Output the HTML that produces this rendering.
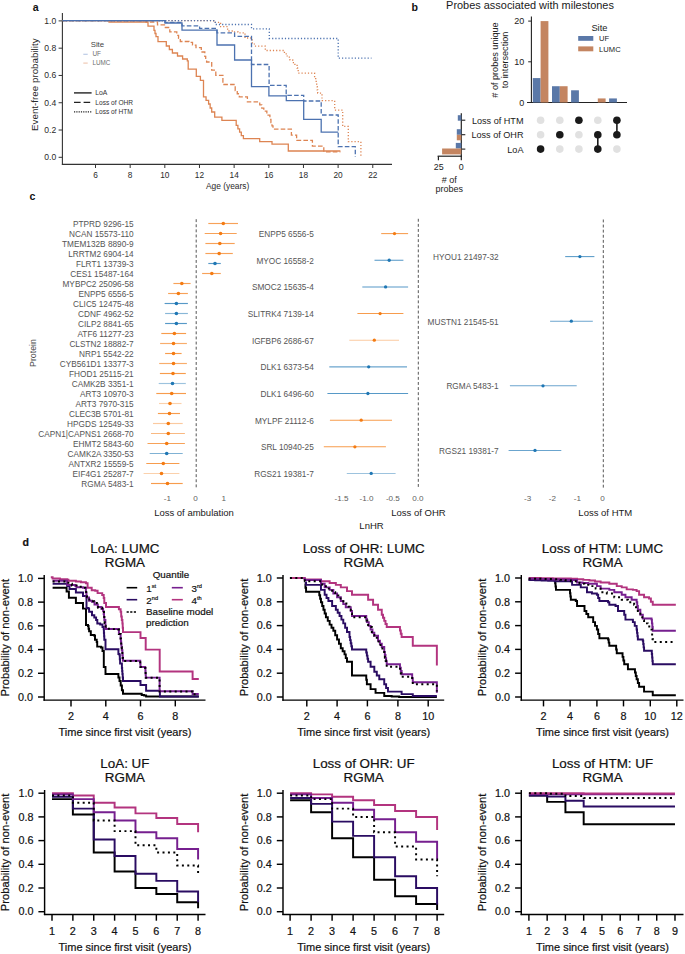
<!DOCTYPE html>
<html><head><meta charset="utf-8"><title>Figure</title>
<style>
html,body{margin:0;padding:0;background:#fff;}
body{width:685px;height:954px;overflow:hidden;}
svg{display:block;font-family:"Liberation Sans",sans-serif;}
</style></head>
<body>
<svg width="685" height="954" viewBox="0 0 685 954">
<rect width="685" height="954" fill="#fff"/>
<text x="32.8" y="11.4" font-size="10.6" text-anchor="start" fill="#111" stroke="#111" stroke-width="0" font-weight="bold">a</text>
<line x1="62.4" y1="13" x2="62.4" y2="164.9" stroke="#333" stroke-width="1.1"/>
<line x1="61.9" y1="164.4" x2="392" y2="164.4" stroke="#333" stroke-width="1.1"/>
<line x1="58.6" y1="157.3" x2="62.4" y2="157.3" stroke="#333" stroke-width="1"/>
<text x="56.2" y="160.27" font-size="8.6" text-anchor="end" fill="#2a2a2a" stroke="#2a2a2a" stroke-width="0" font-weight="normal">0.0</text>
<line x1="58.6" y1="130.02" x2="62.4" y2="130.02" stroke="#333" stroke-width="1"/>
<text x="56.2" y="132.99" font-size="8.6" text-anchor="end" fill="#2a2a2a" stroke="#2a2a2a" stroke-width="0" font-weight="normal">0.2</text>
<line x1="58.6" y1="102.74" x2="62.4" y2="102.74" stroke="#333" stroke-width="1"/>
<text x="56.2" y="105.71" font-size="8.6" text-anchor="end" fill="#2a2a2a" stroke="#2a2a2a" stroke-width="0" font-weight="normal">0.4</text>
<line x1="58.6" y1="75.46" x2="62.4" y2="75.46" stroke="#333" stroke-width="1"/>
<text x="56.2" y="78.43" font-size="8.6" text-anchor="end" fill="#2a2a2a" stroke="#2a2a2a" stroke-width="0" font-weight="normal">0.6</text>
<line x1="58.6" y1="48.18" x2="62.4" y2="48.18" stroke="#333" stroke-width="1"/>
<text x="56.2" y="51.15" font-size="8.6" text-anchor="end" fill="#2a2a2a" stroke="#2a2a2a" stroke-width="0" font-weight="normal">0.8</text>
<line x1="58.6" y1="20.9" x2="62.4" y2="20.9" stroke="#333" stroke-width="1"/>
<text x="56.2" y="23.87" font-size="8.6" text-anchor="end" fill="#2a2a2a" stroke="#2a2a2a" stroke-width="0" font-weight="normal">1.0</text>
<line x1="95.5" y1="164.4" x2="95.5" y2="168" stroke="#333" stroke-width="1"/>
<text x="95.5" y="178.06" font-size="8.3" text-anchor="middle" fill="#2a2a2a" stroke="#2a2a2a" stroke-width="0" font-weight="normal">6</text>
<line x1="130.16" y1="164.4" x2="130.16" y2="168" stroke="#333" stroke-width="1"/>
<text x="130.16" y="178.06" font-size="8.3" text-anchor="middle" fill="#2a2a2a" stroke="#2a2a2a" stroke-width="0" font-weight="normal">8</text>
<line x1="164.82" y1="164.4" x2="164.82" y2="168" stroke="#333" stroke-width="1"/>
<text x="164.82" y="178.06" font-size="8.3" text-anchor="middle" fill="#2a2a2a" stroke="#2a2a2a" stroke-width="0" font-weight="normal">10</text>
<line x1="199.48" y1="164.4" x2="199.48" y2="168" stroke="#333" stroke-width="1"/>
<text x="199.48" y="178.06" font-size="8.3" text-anchor="middle" fill="#2a2a2a" stroke="#2a2a2a" stroke-width="0" font-weight="normal">12</text>
<line x1="234.14" y1="164.4" x2="234.14" y2="168" stroke="#333" stroke-width="1"/>
<text x="234.14" y="178.06" font-size="8.3" text-anchor="middle" fill="#2a2a2a" stroke="#2a2a2a" stroke-width="0" font-weight="normal">14</text>
<line x1="268.8" y1="164.4" x2="268.8" y2="168" stroke="#333" stroke-width="1"/>
<text x="268.8" y="178.06" font-size="8.3" text-anchor="middle" fill="#2a2a2a" stroke="#2a2a2a" stroke-width="0" font-weight="normal">16</text>
<line x1="303.46" y1="164.4" x2="303.46" y2="168" stroke="#333" stroke-width="1"/>
<text x="303.46" y="178.06" font-size="8.3" text-anchor="middle" fill="#2a2a2a" stroke="#2a2a2a" stroke-width="0" font-weight="normal">18</text>
<line x1="338.12" y1="164.4" x2="338.12" y2="168" stroke="#333" stroke-width="1"/>
<text x="338.12" y="178.06" font-size="8.3" text-anchor="middle" fill="#2a2a2a" stroke="#2a2a2a" stroke-width="0" font-weight="normal">20</text>
<line x1="372.78" y1="164.4" x2="372.78" y2="168" stroke="#333" stroke-width="1"/>
<text x="372.78" y="178.06" font-size="8.3" text-anchor="middle" fill="#2a2a2a" stroke="#2a2a2a" stroke-width="0" font-weight="normal">22</text>
<text x="227.6" y="189.1" font-size="8.4" text-anchor="middle" fill="#2a2a2a" stroke="#2a2a2a" stroke-width="0" font-weight="normal">Age (years)</text>
<text x="38.2" y="84.7" font-size="9.8" text-anchor="middle" fill="#2a2a2a" stroke="#2a2a2a" stroke-width="0" font-weight="normal" transform="rotate(-90 38.2 84.7)">Event-free probability</text>
<path d="M62.7 20.7L109 20.7L109 22L142 22H148V26.2H154V30.4H155V33.5H156V36.6H158V41.7H166.3V46H169.35V49.5H172.4V53H177.5V56H182.6V59H187.3V60.8L188.2 60.8L188.2 69.2L196.3 69.2L196.3 76.3L200.4 76.3L200.4 80.4L203.5 80.4L203.5 96.8H206.05V100.4H208.6V104H210.15V108H211.7V112H214.7V117.2H221.9V120.3L234.2 120.3H236.2V125.4H237.9V128.8H239.6V132.2H241.3V135.6H243.4V138.7L259.7 138.7L259.7 141.7L272 141.7L272 144.2L288.3 144.2L288.3 151L340.4 151" fill="none" stroke="#dd8452" stroke-width="1.3" stroke-linejoin="miter"/>
<path d="M62.7 20.7L146 20.7L146 22L157.5 22L157.5 24.9H164.5V27.5H169.8V31.9H176.8V35.4H178.55V38.45H180.3V41.5H189V42.4H192.5V45.05H196V47.7H201.3V52H204.8V56.4H205.7V59.2H206.6V62L211.7 62L211.7 70.2L215.8 70.2L215.8 75.3L222.9 75.3L222.9 84.5L235.2 84.5L235.2 90.7H237.25V93.75H239.3V96.8H247.4V101.9L257.7 101.9H259.73V104.97H261.77V108.03H263.8V111.1H266.85V115.2H269.9V119.3H270.93V122.57H271.97V125.83H273V129.1L291.4 129.1L291.4 135.2L296.6 135.2L296.6 140.4L312.4 140.4L312.4 146.2L323.8 146.2L323.8 151.8L340.4 151.8" fill="none" stroke="#dd8452" stroke-width="1.3" stroke-linejoin="miter" stroke-dasharray="4.6,2.2"/>
<path d="M62.7 20.7L213.6 20.7L213.6 22.3H220.6V26.65H227.6V31H232.8V31.9H238V32.8H245V38H252.2V42.8H254.4V46.1L265.3 46.1L265.3 50.5L281.7 50.5H284.45V53.8H287.2V57.1H289.95V59.85H292.7V62.6H294.9V65.3H297.1V68H298.2V73.1L313.5 73.1H314.6V76.55H315.7V80H316.2V83.28H316.7V86.55H317.2V89.82H317.7V93.1L322 93.1L322 100.7L334.7 100.7L334.7 110.1L342.7 110.1L342.7 126.4L348.3 126.4L348.3 141.7L360.9 141.7L360.9 156.2" fill="none" stroke="#dd8452" stroke-width="1.3" stroke-linejoin="miter" stroke-dasharray="1.2,2"/>
<path d="M62.7 20.7L165 20.7L165 23L182 23L182 30.1L217 30.1L217 45L234.6 45L234.6 60L251.5 60L251.5 86.6L268.9 86.6L268.9 95.8L286.3 95.8L286.3 100.7L303.7 100.7L303.7 119.4L321.2 119.4L321.2 132.2L338.2 132.2" fill="none" stroke="#4c72b0" stroke-width="1.3" stroke-linejoin="miter"/>
<path d="M62.7 20.7L165 20.7L165 22.3L182 22.3L182 25.8L199.6 25.8L199.6 28.4L217 28.4L217 32.8L234.6 32.8L234.6 36.3L251.5 36.3L251.5 64.5L269.1 64.5L269.1 85.4L286.2 85.4L286.2 95.3L303.7 95.3L303.7 101L321.2 101L321.2 115L338.2 115L338.2 146.6L355.3 146.6L355.3 157.1" fill="none" stroke="#4c72b0" stroke-width="1.3" stroke-linejoin="miter" stroke-dasharray="4.6,2.2"/>
<path d="M62.7 20.7L215.3 20.7L215.3 24.5L251.5 24.5L251.5 28.8L269.3 28.8L269.3 38.5L338.2 38.5L338.2 58.2L371.5 58.2" fill="none" stroke="#4c72b0" stroke-width="1.3" stroke-linejoin="miter" stroke-dasharray="1.2,2"/>
<text x="90.7" y="46.69" font-size="7.8" text-anchor="start" fill="#444" stroke="#444" stroke-width="0" font-weight="normal">Site</text>
<line x1="83.3" y1="54.3" x2="87.7" y2="54.3" stroke="#bccbe6" stroke-width="1.2"/>
<text x="92.5" y="56.31" font-size="6.4" text-anchor="start" fill="#6e6e6e" stroke="#6e6e6e" stroke-width="0" font-weight="normal">UF</text>
<line x1="83.3" y1="63.1" x2="87.7" y2="63.1" stroke="#efc9b4" stroke-width="1.2"/>
<text x="92.5" y="65.17" font-size="6.3" text-anchor="start" fill="#6e6e6e" stroke="#6e6e6e" stroke-width="0" font-weight="normal">LUMC</text>
<line x1="74" y1="92.9" x2="91.6" y2="92.9" stroke="#222" stroke-width="1.4"/>
<line x1="74" y1="102.4" x2="91.6" y2="102.4" stroke="#222" stroke-width="1.4" stroke-dasharray="6.6,3"/>
<line x1="74" y1="111.9" x2="91.6" y2="111.9" stroke="#222" stroke-width="1.3" stroke-dasharray="1.2,1.1"/>
<text x="95.3" y="95.25" font-size="6.8" text-anchor="start" fill="#333" stroke="#333" stroke-width="0" font-weight="normal">LoA</text>
<text x="95.3" y="104.68" font-size="6.6" text-anchor="start" fill="#333" stroke="#333" stroke-width="0" font-weight="normal">Loss of OHR</text>
<text x="95.3" y="114.18" font-size="6.6" text-anchor="start" fill="#333" stroke="#333" stroke-width="0" font-weight="normal">Loss of HTM</text>
<text x="411.5" y="11.3" font-size="10.6" text-anchor="start" fill="#111" stroke="#111" stroke-width="0" font-weight="bold">b</text>
<text x="530" y="9.38" font-size="10.95" text-anchor="middle" fill="#1a1a1a" stroke="#1a1a1a" stroke-width="0" font-weight="normal">Probes associated with milestones</text>
<line x1="531.4" y1="16.5" x2="531.4" y2="103" stroke="#222" stroke-width="1.1"/>
<line x1="527" y1="102.5" x2="627" y2="102.5" stroke="#222" stroke-width="1.1"/>
<line x1="528.2" y1="102.5" x2="531.4" y2="102.5" stroke="#222" stroke-width="1"/>
<text x="524.3" y="105.61" font-size="9" text-anchor="end" fill="#222" stroke="#222" stroke-width="0" font-weight="normal">0</text>
<line x1="528.2" y1="61.8" x2="531.4" y2="61.8" stroke="#222" stroke-width="1"/>
<text x="524.3" y="64.91" font-size="9" text-anchor="end" fill="#222" stroke="#222" stroke-width="0" font-weight="normal">10</text>
<line x1="528.2" y1="21.1" x2="531.4" y2="21.1" stroke="#222" stroke-width="1"/>
<text x="524.3" y="24.2" font-size="9" text-anchor="end" fill="#222" stroke="#222" stroke-width="0" font-weight="normal">20</text>
<text x="498.3" y="60" font-size="9.1" text-anchor="middle" fill="#222" stroke="#222" stroke-width="0" font-weight="normal" transform="rotate(-90 498.3 60)"># of probes unique</text>
<text x="508.2" y="60" font-size="9.1" text-anchor="middle" fill="#222" stroke="#222" stroke-width="0" font-weight="normal" transform="rotate(-90 508.2 60)">to intersection</text>
<rect x="532.8" y="78.08" width="7.8" height="24.42" fill="#5a78a8"/>
<rect x="540.6" y="21.1" width="7.8" height="81.4" fill="#c48561"/>
<rect x="552" y="86.22" width="7.8" height="16.28" fill="#5a78a8"/>
<rect x="559.8" y="86.22" width="7.8" height="16.28" fill="#c48561"/>
<rect x="571.1" y="90.29" width="7.8" height="12.21" fill="#5a78a8"/>
<rect x="597.8" y="98.43" width="7.8" height="4.07" fill="#c48561"/>
<rect x="609.1" y="98.43" width="7.8" height="4.07" fill="#5a78a8"/>
<text x="591.4" y="30.61" font-size="9.3" text-anchor="start" fill="#222" stroke="#222" stroke-width="0" font-weight="normal">Site</text>
<rect x="578.2" y="36" width="15.1" height="4.8" fill="#5a78a8"/>
<text x="599.1" y="41.12" font-size="7.6" text-anchor="start" fill="#222" stroke="#222" stroke-width="0" font-weight="normal">UF</text>
<rect x="578.2" y="46.4" width="15.1" height="4.9" fill="#c48561"/>
<text x="599.1" y="51.62" font-size="7.6" text-anchor="start" fill="#222" stroke="#222" stroke-width="0" font-weight="normal">LUMC</text>
<text x="523.5" y="123.94" font-size="9.1" text-anchor="end" fill="#1a1a1a" stroke="#1a1a1a" stroke-width="0" font-weight="normal">Loss of HTM</text>
<text x="523.5" y="138.44" font-size="9.1" text-anchor="end" fill="#1a1a1a" stroke="#1a1a1a" stroke-width="0" font-weight="normal">Loss of OHR</text>
<text x="523.5" y="152.84" font-size="9.1" text-anchor="end" fill="#1a1a1a" stroke="#1a1a1a" stroke-width="0" font-weight="normal">LoA</text>
<circle cx="540.6" cy="134.7" r="3.8" fill="#e1e1e1"/>
<circle cx="540.6" cy="120.2" r="3.8" fill="#e1e1e1"/>
<circle cx="540.6" cy="149.1" r="3.8" fill="#1a1a1a"/>
<circle cx="559.8" cy="149.1" r="3.8" fill="#e1e1e1"/>
<circle cx="559.8" cy="120.2" r="3.8" fill="#e1e1e1"/>
<circle cx="559.8" cy="134.7" r="3.8" fill="#1a1a1a"/>
<circle cx="578.9" cy="149.1" r="3.8" fill="#e1e1e1"/>
<circle cx="578.9" cy="134.7" r="3.8" fill="#e1e1e1"/>
<circle cx="578.9" cy="120.2" r="3.8" fill="#1a1a1a"/>
<circle cx="597.8" cy="120.2" r="3.8" fill="#e1e1e1"/>
<line x1="597.8" y1="134.7" x2="597.8" y2="149.1" stroke="#1a1a1a" stroke-width="1.6"/>
<circle cx="597.8" cy="149.1" r="3.8" fill="#1a1a1a"/>
<circle cx="597.8" cy="134.7" r="3.8" fill="#1a1a1a"/>
<circle cx="616.9" cy="149.1" r="3.8" fill="#e1e1e1"/>
<line x1="616.9" y1="120.2" x2="616.9" y2="134.7" stroke="#1a1a1a" stroke-width="1.6"/>
<circle cx="616.9" cy="134.7" r="3.8" fill="#1a1a1a"/>
<circle cx="616.9" cy="120.2" r="3.8" fill="#1a1a1a"/>
<line x1="461.3" y1="113.2" x2="461.3" y2="156.8" stroke="#222" stroke-width="1.2"/>
<line x1="437.6" y1="156.2" x2="461.9" y2="156.2" stroke="#222" stroke-width="1.2"/>
<line x1="461.3" y1="120.2" x2="465.3" y2="120.2" stroke="#222" stroke-width="1.1"/>
<line x1="461.3" y1="134.7" x2="465.3" y2="134.7" stroke="#222" stroke-width="1.1"/>
<line x1="461.3" y1="149.1" x2="465.3" y2="149.1" stroke="#222" stroke-width="1.1"/>
<line x1="438.4" y1="156.2" x2="438.4" y2="160.3" stroke="#222" stroke-width="1.2"/>
<line x1="461.3" y1="156.2" x2="461.3" y2="160.3" stroke="#222" stroke-width="1.2"/>
<text x="438.8" y="170.47" font-size="8.9" text-anchor="middle" fill="#222" stroke="#222" stroke-width="0" font-weight="normal">25</text>
<text x="461.2" y="170.47" font-size="8.9" text-anchor="middle" fill="#222" stroke="#222" stroke-width="0" font-weight="normal">0</text>
<text x="449.2" y="182.5" font-size="9" text-anchor="middle" fill="#222" stroke="#222" stroke-width="0" font-weight="normal"># of</text>
<text x="449.2" y="191.9" font-size="9" text-anchor="middle" fill="#222" stroke="#222" stroke-width="0" font-weight="normal">probes</text>
<rect x="457.8" y="115.2" width="3.5" height="5.5" fill="#5a78a8"/>
<rect x="456.8" y="129.2" width="4.5" height="5.6" fill="#5a78a8"/>
<rect x="456.8" y="134.8" width="4.5" height="5.5" fill="#c48561"/>
<rect x="455.8" y="142.9" width="5.5" height="5.6" fill="#5a78a8"/>
<rect x="442.1" y="148.5" width="19.2" height="5.9" fill="#c48561"/>
<text x="29.5" y="199.6" font-size="10.6" text-anchor="start" fill="#111" stroke="#111" stroke-width="0" font-weight="bold">c</text>
<line x1="196.2" y1="219.2" x2="196.2" y2="488.8" stroke="#555" stroke-width="1" stroke-dasharray="2.9,2.2"/>
<line x1="208.3" y1="223.5" x2="238" y2="223.5" stroke="#f47b12" stroke-width="1.15" stroke-opacity="0.7"/>
<circle cx="223.3" cy="223.5" r="1.8" fill="#f47b12"/>
<text x="133.6" y="226.85" font-size="8.25" text-anchor="end" fill="#555" stroke="#555" stroke-width="0" font-weight="normal">PTPRD 9296-15</text>
<line x1="204.7" y1="233.5" x2="236.7" y2="233.5" stroke="#f47b12" stroke-width="1.15" stroke-opacity="0.7"/>
<circle cx="220.6" cy="233.5" r="1.8" fill="#f47b12"/>
<text x="133.6" y="236.85" font-size="8.25" text-anchor="end" fill="#555" stroke="#555" stroke-width="0" font-weight="normal">NCAN 15573-110</text>
<line x1="205.4" y1="243.5" x2="234.7" y2="243.5" stroke="#f47b12" stroke-width="1.15" stroke-opacity="0.7"/>
<circle cx="219.8" cy="243.5" r="1.8" fill="#f47b12"/>
<text x="133.6" y="246.85" font-size="8.25" text-anchor="end" fill="#555" stroke="#555" stroke-width="0" font-weight="normal">TMEM132B 8890-9</text>
<line x1="205.4" y1="253.5" x2="232.8" y2="253.5" stroke="#f47b12" stroke-width="1.15" stroke-opacity="0.7"/>
<circle cx="219.2" cy="253.5" r="1.8" fill="#f47b12"/>
<text x="133.6" y="256.85" font-size="8.25" text-anchor="end" fill="#555" stroke="#555" stroke-width="0" font-weight="normal">LRRTM2 6904-14</text>
<line x1="208.3" y1="263.5" x2="220.8" y2="263.5" stroke="#1f77b4" stroke-width="1.15" stroke-opacity="0.75"/>
<circle cx="215" cy="263.5" r="1.8" fill="#1f77b4"/>
<text x="133.6" y="266.85" font-size="8.25" text-anchor="end" fill="#555" stroke="#555" stroke-width="0" font-weight="normal">FLRT1 13739-3</text>
<line x1="202.1" y1="273.5" x2="220.8" y2="273.5" stroke="#f47b12" stroke-width="1.15" stroke-opacity="0.7"/>
<circle cx="211.8" cy="273.5" r="1.8" fill="#f47b12"/>
<text x="133.6" y="276.85" font-size="8.25" text-anchor="end" fill="#555" stroke="#555" stroke-width="0" font-weight="normal">CES1 15487-164</text>
<line x1="173.4" y1="283.5" x2="190.6" y2="283.5" stroke="#f47b12" stroke-width="1.15" stroke-opacity="0.7"/>
<circle cx="181.8" cy="283.5" r="1.8" fill="#f47b12"/>
<text x="133.6" y="286.85" font-size="8.25" text-anchor="end" fill="#555" stroke="#555" stroke-width="0" font-weight="normal">MYBPC2 25096-58</text>
<line x1="168.1" y1="293.5" x2="187.9" y2="293.5" stroke="#f47b12" stroke-width="1.15" stroke-opacity="0.7"/>
<circle cx="178.4" cy="293.5" r="1.8" fill="#f47b12"/>
<text x="133.6" y="296.85" font-size="8.25" text-anchor="end" fill="#555" stroke="#555" stroke-width="0" font-weight="normal">ENPP5 6556-5</text>
<line x1="164.6" y1="303.5" x2="187.9" y2="303.5" stroke="#1f77b4" stroke-width="1.15" stroke-opacity="0.75"/>
<circle cx="176.4" cy="303.5" r="1.8" fill="#1f77b4"/>
<text x="133.6" y="306.85" font-size="8.25" text-anchor="end" fill="#555" stroke="#555" stroke-width="0" font-weight="normal">CLIC5 12475-48</text>
<line x1="165.1" y1="313.5" x2="187.9" y2="313.5" stroke="#1f77b4" stroke-width="1.15" stroke-opacity="0.53"/>
<circle cx="176.4" cy="313.5" r="1.8" fill="#1f77b4"/>
<text x="133.6" y="316.85" font-size="8.25" text-anchor="end" fill="#555" stroke="#555" stroke-width="0" font-weight="normal">CDNF 4962-52</text>
<line x1="165.1" y1="323.5" x2="186.9" y2="323.5" stroke="#1f77b4" stroke-width="1.15" stroke-opacity="0.75"/>
<circle cx="176.4" cy="323.5" r="1.8" fill="#1f77b4"/>
<text x="133.6" y="326.85" font-size="8.25" text-anchor="end" fill="#555" stroke="#555" stroke-width="0" font-weight="normal">CILP2 8841-65</text>
<line x1="161.3" y1="333.5" x2="186.1" y2="333.5" stroke="#f47b12" stroke-width="1.15" stroke-opacity="0.75"/>
<circle cx="174.4" cy="333.5" r="1.8" fill="#f47b12"/>
<text x="133.6" y="336.85" font-size="8.25" text-anchor="end" fill="#555" stroke="#555" stroke-width="0" font-weight="normal">ATF6 11277-23</text>
<line x1="160.1" y1="343.5" x2="186.9" y2="343.5" stroke="#f47b12" stroke-width="1.15" stroke-opacity="0.62"/>
<circle cx="173.5" cy="343.5" r="1.8" fill="#f47b12"/>
<text x="133.6" y="346.85" font-size="8.25" text-anchor="end" fill="#555" stroke="#555" stroke-width="0" font-weight="normal">CLSTN2 18882-7</text>
<line x1="165.1" y1="353.5" x2="181.6" y2="353.5" stroke="#f47b12" stroke-width="1.15" stroke-opacity="0.75"/>
<circle cx="173.5" cy="353.5" r="1.8" fill="#f47b12"/>
<text x="133.6" y="356.85" font-size="8.25" text-anchor="end" fill="#555" stroke="#555" stroke-width="0" font-weight="normal">NRP1 5542-22</text>
<line x1="159.2" y1="363.5" x2="186.9" y2="363.5" stroke="#f47b12" stroke-width="1.15" stroke-opacity="0.62"/>
<circle cx="173.5" cy="363.5" r="1.8" fill="#f47b12"/>
<text x="133.6" y="366.85" font-size="8.25" text-anchor="end" fill="#555" stroke="#555" stroke-width="0" font-weight="normal">CYB561D1 13377-3</text>
<line x1="159.9" y1="373.5" x2="185.8" y2="373.5" stroke="#f47b12" stroke-width="1.15" stroke-opacity="0.75"/>
<circle cx="173" cy="373.5" r="1.8" fill="#f47b12"/>
<text x="133.6" y="376.85" font-size="8.25" text-anchor="end" fill="#555" stroke="#555" stroke-width="0" font-weight="normal">FHOD1 25115-21</text>
<line x1="158.7" y1="383.5" x2="185.8" y2="383.5" stroke="#1f77b4" stroke-width="1.15" stroke-opacity="0.44"/>
<circle cx="172.5" cy="383.5" r="1.8" fill="#1f77b4"/>
<text x="133.6" y="386.85" font-size="8.25" text-anchor="end" fill="#555" stroke="#555" stroke-width="0" font-weight="normal">CAMK2B 3351-1</text>
<line x1="156.3" y1="393.5" x2="186" y2="393.5" stroke="#f47b12" stroke-width="1.15" stroke-opacity="0.75"/>
<circle cx="171.7" cy="393.5" r="1.8" fill="#f47b12"/>
<text x="133.6" y="396.85" font-size="8.25" text-anchor="end" fill="#555" stroke="#555" stroke-width="0" font-weight="normal">ART3 10970-3</text>
<line x1="159" y1="403.5" x2="181.5" y2="403.5" stroke="#f47b12" stroke-width="1.15" stroke-opacity="0.35"/>
<circle cx="170" cy="403.5" r="1.8" fill="#f47b12"/>
<text x="133.6" y="406.85" font-size="8.25" text-anchor="end" fill="#555" stroke="#555" stroke-width="0" font-weight="normal">ART3 7970-315</text>
<line x1="157.9" y1="413.5" x2="180" y2="413.5" stroke="#f47b12" stroke-width="1.15" stroke-opacity="0.75"/>
<circle cx="169.5" cy="413.5" r="1.8" fill="#f47b12"/>
<text x="133.6" y="416.85" font-size="8.25" text-anchor="end" fill="#555" stroke="#555" stroke-width="0" font-weight="normal">CLEC3B 5701-81</text>
<line x1="153" y1="423.5" x2="182.7" y2="423.5" stroke="#f47b12" stroke-width="1.15" stroke-opacity="0.4"/>
<circle cx="168.3" cy="423.5" r="1.8" fill="#f47b12"/>
<text x="133.6" y="426.85" font-size="8.25" text-anchor="end" fill="#555" stroke="#555" stroke-width="0" font-weight="normal">HPGDS 12549-33</text>
<line x1="151" y1="433.5" x2="184.9" y2="433.5" stroke="#f47b12" stroke-width="1.15" stroke-opacity="0.53"/>
<circle cx="168.3" cy="433.5" r="1.8" fill="#f47b12"/>
<text x="133.6" y="436.85" font-size="8.25" text-anchor="end" fill="#555" stroke="#555" stroke-width="0" font-weight="normal">CAPN1|CAPNS1 2668-70</text>
<line x1="147.5" y1="443.5" x2="184.9" y2="443.5" stroke="#f47b12" stroke-width="1.15" stroke-opacity="0.7"/>
<circle cx="166.7" cy="443.5" r="1.8" fill="#f47b12"/>
<text x="133.6" y="446.85" font-size="8.25" text-anchor="end" fill="#555" stroke="#555" stroke-width="0" font-weight="normal">EHMT2 5843-60</text>
<line x1="149.7" y1="453.5" x2="182.7" y2="453.5" stroke="#1f77b4" stroke-width="1.15" stroke-opacity="0.57"/>
<circle cx="166.7" cy="453.5" r="1.8" fill="#1f77b4"/>
<text x="133.6" y="456.85" font-size="8.25" text-anchor="end" fill="#555" stroke="#555" stroke-width="0" font-weight="normal">CAMK2A 3350-53</text>
<line x1="146.3" y1="463.5" x2="179.4" y2="463.5" stroke="#f47b12" stroke-width="1.15" stroke-opacity="0.75"/>
<circle cx="163.3" cy="463.5" r="1.8" fill="#f47b12"/>
<text x="133.6" y="466.85" font-size="8.25" text-anchor="end" fill="#555" stroke="#555" stroke-width="0" font-weight="normal">ANTXR2 15559-5</text>
<line x1="143.6" y1="473.5" x2="179.4" y2="473.5" stroke="#f47b12" stroke-width="1.15" stroke-opacity="0.35"/>
<circle cx="161.5" cy="473.5" r="1.8" fill="#f47b12"/>
<text x="133.6" y="476.85" font-size="8.25" text-anchor="end" fill="#555" stroke="#555" stroke-width="0" font-weight="normal">EIF4G1 25287-7</text>
<line x1="151" y1="483.5" x2="182.7" y2="483.5" stroke="#f47b12" stroke-width="1.15" stroke-opacity="0.75"/>
<circle cx="167.5" cy="483.5" r="1.8" fill="#f47b12"/>
<text x="133.6" y="486.85" font-size="8.25" text-anchor="end" fill="#555" stroke="#555" stroke-width="0" font-weight="normal">RGMA 5483-1</text>
<text x="167.3" y="500.79" font-size="8.1" text-anchor="middle" fill="#606060" stroke="#606060" stroke-width="0" font-weight="normal">-1</text>
<text x="195.6" y="500.79" font-size="8.1" text-anchor="middle" fill="#606060" stroke="#606060" stroke-width="0" font-weight="normal">0</text>
<text x="223.8" y="500.79" font-size="8.1" text-anchor="middle" fill="#606060" stroke="#606060" stroke-width="0" font-weight="normal">1</text>
<text x="194" y="515.78" font-size="9.5" text-anchor="middle" fill="#1a1a1a" stroke="#1a1a1a" stroke-width="0" font-weight="normal">Loss of ambulation</text>
<text x="35.5" y="353" font-size="8.8" text-anchor="middle" fill="#4a4a4a" stroke="#4a4a4a" stroke-width="0" font-weight="normal" transform="rotate(-90 35.5 353)">Protein</text>
<line x1="418.3" y1="218.8" x2="418.3" y2="488.8" stroke="#555" stroke-width="1" stroke-dasharray="2.9,2.2"/>
<line x1="381.2" y1="233.6" x2="408.1" y2="233.6" stroke="#f47b12" stroke-width="1.05" stroke-opacity="0.75"/>
<circle cx="394.5" cy="233.6" r="1.65" fill="#f47b12"/>
<text x="313.8" y="236.95" font-size="8.25" text-anchor="end" fill="#555" stroke="#555" stroke-width="0" font-weight="normal">ENPP5 6556-5</text>
<line x1="374.5" y1="260.25" x2="403.4" y2="260.25" stroke="#1f77b4" stroke-width="1.05" stroke-opacity="0.75"/>
<circle cx="389.2" cy="260.25" r="1.65" fill="#1f77b4"/>
<text x="313.8" y="263.6" font-size="8.25" text-anchor="end" fill="#555" stroke="#555" stroke-width="0" font-weight="normal">MYOC 16558-2</text>
<line x1="362.3" y1="286.9" x2="408.1" y2="286.9" stroke="#1f77b4" stroke-width="1.05" stroke-opacity="0.75"/>
<circle cx="385.6" cy="286.9" r="1.65" fill="#1f77b4"/>
<text x="313.8" y="290.25" font-size="8.25" text-anchor="end" fill="#555" stroke="#555" stroke-width="0" font-weight="normal">SMOC2 15635-4</text>
<line x1="357.4" y1="313.55" x2="403.4" y2="313.55" stroke="#f47b12" stroke-width="1.05" stroke-opacity="0.75"/>
<circle cx="380.1" cy="313.55" r="1.65" fill="#f47b12"/>
<text x="313.8" y="316.9" font-size="8.25" text-anchor="end" fill="#555" stroke="#555" stroke-width="0" font-weight="normal">SLITRK4 7139-14</text>
<line x1="349.3" y1="340.2" x2="399" y2="340.2" stroke="#f47b12" stroke-width="1.05" stroke-opacity="0.4"/>
<circle cx="374.3" cy="340.2" r="1.65" fill="#f47b12"/>
<text x="313.8" y="343.55" font-size="8.25" text-anchor="end" fill="#555" stroke="#555" stroke-width="0" font-weight="normal">IGFBP6 2686-67</text>
<line x1="329.3" y1="366.85" x2="407" y2="366.85" stroke="#1f77b4" stroke-width="1.05" stroke-opacity="0.66"/>
<circle cx="368.7" cy="366.85" r="1.65" fill="#1f77b4"/>
<text x="313.8" y="370.2" font-size="8.25" text-anchor="end" fill="#555" stroke="#555" stroke-width="0" font-weight="normal">DLK1 6373-54</text>
<line x1="327.4" y1="393.5" x2="408.1" y2="393.5" stroke="#1f77b4" stroke-width="1.05" stroke-opacity="0.75"/>
<circle cx="367.9" cy="393.5" r="1.65" fill="#1f77b4"/>
<text x="313.8" y="396.85" font-size="8.25" text-anchor="end" fill="#555" stroke="#555" stroke-width="0" font-weight="normal">DLK1 6496-60</text>
<line x1="329.9" y1="420.15" x2="392" y2="420.15" stroke="#f47b12" stroke-width="1.05" stroke-opacity="0.75"/>
<circle cx="361.2" cy="420.15" r="1.65" fill="#f47b12"/>
<text x="313.8" y="423.5" font-size="8.25" text-anchor="end" fill="#555" stroke="#555" stroke-width="0" font-weight="normal">MYLPF 21112-6</text>
<line x1="323.8" y1="446.8" x2="385.9" y2="446.8" stroke="#f47b12" stroke-width="1.05" stroke-opacity="0.75"/>
<circle cx="354.9" cy="446.8" r="1.65" fill="#f47b12"/>
<text x="313.8" y="450.15" font-size="8.25" text-anchor="end" fill="#555" stroke="#555" stroke-width="0" font-weight="normal">SRL 10940-25</text>
<line x1="346.8" y1="473.45" x2="395.6" y2="473.45" stroke="#1f77b4" stroke-width="1.05" stroke-opacity="0.44"/>
<circle cx="371.2" cy="473.45" r="1.65" fill="#1f77b4"/>
<text x="313.8" y="476.8" font-size="8.25" text-anchor="end" fill="#555" stroke="#555" stroke-width="0" font-weight="normal">RGS21 19381-7</text>
<text x="341.5" y="500.79" font-size="8.1" text-anchor="middle" fill="#606060" stroke="#606060" stroke-width="0" font-weight="normal">-1.5</text>
<text x="366.5" y="500.79" font-size="8.1" text-anchor="middle" fill="#606060" stroke="#606060" stroke-width="0" font-weight="normal">-1.0</text>
<text x="392.9" y="500.79" font-size="8.1" text-anchor="middle" fill="#606060" stroke="#606060" stroke-width="0" font-weight="normal">-0.5</text>
<text x="417.8" y="500.79" font-size="8.1" text-anchor="middle" fill="#606060" stroke="#606060" stroke-width="0" font-weight="normal">0.0</text>
<text x="418.5" y="516.08" font-size="9.5" text-anchor="middle" fill="#1a1a1a" stroke="#1a1a1a" stroke-width="0" font-weight="normal">Loss of OHR</text>
<text x="371.5" y="529.48" font-size="9.5" text-anchor="middle" fill="#1a1a1a" stroke="#1a1a1a" stroke-width="0" font-weight="normal">LnHR</text>
<line x1="603.3" y1="219.5" x2="603.3" y2="489.2" stroke="#555" stroke-width="1" stroke-dasharray="2.9,2.2"/>
<line x1="565.2" y1="256.6" x2="594.4" y2="256.6" stroke="#1f77b4" stroke-width="1.05" stroke-opacity="0.75"/>
<circle cx="579.9" cy="256.6" r="1.65" fill="#1f77b4"/>
<text x="498.7" y="259.95" font-size="8.25" text-anchor="end" fill="#555" stroke="#555" stroke-width="0" font-weight="normal">HYOU1 21497-32</text>
<line x1="550.1" y1="321.2" x2="592.8" y2="321.2" stroke="#1f77b4" stroke-width="1.05" stroke-opacity="0.66"/>
<circle cx="571.3" cy="321.2" r="1.65" fill="#1f77b4"/>
<text x="498.7" y="324.55" font-size="8.25" text-anchor="end" fill="#555" stroke="#555" stroke-width="0" font-weight="normal">MUSTN1 21545-51</text>
<line x1="509.9" y1="385.8" x2="576.7" y2="385.8" stroke="#1f77b4" stroke-width="1.05" stroke-opacity="0.66"/>
<circle cx="543" cy="385.8" r="1.65" fill="#1f77b4"/>
<text x="498.7" y="389.15" font-size="8.25" text-anchor="end" fill="#555" stroke="#555" stroke-width="0" font-weight="normal">RGMA 5483-1</text>
<line x1="508.6" y1="450.4" x2="561.3" y2="450.4" stroke="#1f77b4" stroke-width="1.05" stroke-opacity="0.66"/>
<circle cx="535" cy="450.4" r="1.65" fill="#1f77b4"/>
<text x="498.7" y="453.75" font-size="8.25" text-anchor="end" fill="#555" stroke="#555" stroke-width="0" font-weight="normal">RGS21 19381-7</text>
<text x="527.6" y="500.79" font-size="8.1" text-anchor="middle" fill="#606060" stroke="#606060" stroke-width="0" font-weight="normal">-3</text>
<text x="552.3" y="500.79" font-size="8.1" text-anchor="middle" fill="#606060" stroke="#606060" stroke-width="0" font-weight="normal">-2</text>
<text x="577.4" y="500.79" font-size="8.1" text-anchor="middle" fill="#606060" stroke="#606060" stroke-width="0" font-weight="normal">-1</text>
<text x="602.4" y="500.79" font-size="8.1" text-anchor="middle" fill="#606060" stroke="#606060" stroke-width="0" font-weight="normal">0</text>
<text x="605.3" y="515.68" font-size="9.5" text-anchor="middle" fill="#1a1a1a" stroke="#1a1a1a" stroke-width="0" font-weight="normal">Loss of HTM</text>
<text x="22.5" y="546.2" font-size="10.6" text-anchor="start" fill="#111" stroke="#111" stroke-width="0.2" font-weight="bold">d</text>
<line x1="44.2" y1="575" x2="44.2" y2="700.8" stroke="#000" stroke-width="1.45"/>
<line x1="43.5" y1="700.1" x2="205.5" y2="700.1" stroke="#000" stroke-width="1.45"/>
<line x1="38" y1="697" x2="44.2" y2="697" stroke="#000" stroke-width="1.45"/>
<text x="33" y="700.73" font-size="10.8" text-anchor="end" fill="#111" stroke="#111" stroke-width="0.2" font-weight="normal">0.0</text>
<line x1="38" y1="673.28" x2="44.2" y2="673.28" stroke="#000" stroke-width="1.45"/>
<text x="33" y="677.01" font-size="10.8" text-anchor="end" fill="#111" stroke="#111" stroke-width="0.2" font-weight="normal">0.2</text>
<line x1="38" y1="649.56" x2="44.2" y2="649.56" stroke="#000" stroke-width="1.45"/>
<text x="33" y="653.29" font-size="10.8" text-anchor="end" fill="#111" stroke="#111" stroke-width="0.2" font-weight="normal">0.4</text>
<line x1="38" y1="625.84" x2="44.2" y2="625.84" stroke="#000" stroke-width="1.45"/>
<text x="33" y="629.57" font-size="10.8" text-anchor="end" fill="#111" stroke="#111" stroke-width="0.2" font-weight="normal">0.6</text>
<line x1="38" y1="602.12" x2="44.2" y2="602.12" stroke="#000" stroke-width="1.45"/>
<text x="33" y="605.85" font-size="10.8" text-anchor="end" fill="#111" stroke="#111" stroke-width="0.2" font-weight="normal">0.8</text>
<line x1="38" y1="578.4" x2="44.2" y2="578.4" stroke="#000" stroke-width="1.45"/>
<text x="33" y="582.13" font-size="10.8" text-anchor="end" fill="#111" stroke="#111" stroke-width="0.2" font-weight="normal">1.0</text>
<line x1="71" y1="700.1" x2="71" y2="706.4" stroke="#000" stroke-width="1.45"/>
<text x="71" y="719.83" font-size="10.8" text-anchor="middle" fill="#111" stroke="#111" stroke-width="0.2" font-weight="normal">2</text>
<line x1="105.8" y1="700.1" x2="105.8" y2="706.4" stroke="#000" stroke-width="1.45"/>
<text x="105.8" y="719.83" font-size="10.8" text-anchor="middle" fill="#111" stroke="#111" stroke-width="0.2" font-weight="normal">4</text>
<line x1="140.5" y1="700.1" x2="140.5" y2="706.4" stroke="#000" stroke-width="1.45"/>
<text x="140.5" y="719.83" font-size="10.8" text-anchor="middle" fill="#111" stroke="#111" stroke-width="0.2" font-weight="normal">6</text>
<line x1="175.3" y1="700.1" x2="175.3" y2="706.4" stroke="#000" stroke-width="1.45"/>
<text x="175.3" y="719.83" font-size="10.8" text-anchor="middle" fill="#111" stroke="#111" stroke-width="0.2" font-weight="normal">8</text>
<text x="124.9" y="735.5" font-size="11" text-anchor="middle" fill="#111" stroke="#111" stroke-width="0.2" font-weight="normal">Time since first visit (years)</text>
<text x="8.9" y="637.7" font-size="11.2" text-anchor="middle" fill="#111" stroke="#111" stroke-width="0.2" font-weight="normal" transform="rotate(-90 8.9 637.7)">Probability of non-event</text>
<text x="124.9" y="552.6" font-size="13.4" text-anchor="middle" fill="#111" stroke="#111" stroke-width="0.2" font-weight="normal">LoA: LUMC</text>
<text x="124.9" y="566.7" font-size="13.4" text-anchor="middle" fill="#111" stroke="#111" stroke-width="0.2" font-weight="normal">RGMA</text>
<path d="M52.6 587.8L66.6 587.8L66.6 591.4L68.9 591.4L68.9 597.8L75.9 597.8L75.9 603L83 603L83 608.6L86 608.6L86 625H88V626H88.55V628.65H89.1V631.3H90.8V635H94.5V636H95V639.7H96.7V642H97.2V646.6H101V647.5H102.5V651H103.8V652.8L103.8 666.9H105.5V668L105.5 673.9L117.8 673.9H118.4V677.4H119.5V680.9H120.7V685.5H121.9V690.2H123V693.7L140.5 693.7H141.7V694.9H144.1V695.5H146.1V696.4L198.8 696.4" fill="none" stroke="#000000" stroke-width="1.95" stroke-linejoin="miter"/>
<path d="M52.6 583.8L66.6 583.8H67.2V586.1L69.5 586.1L69.5 589L75.9 589L75.9 592.5L83 592.5L83 596H86.5V597.2L86.5 608H88.5V608.8H89.1V611.7H92V615.2H94.3V617.5H96.1V619.9H97.3V623.4H100.2V624.5H102.5V626.9H103.7V629.2H103.9V632.7H104.1V636.2H104.3V639.7H105.5V642.3L105.5 649.3L117.8 649.3H118.4V654H119.5V655.2H119.8V659.3H120.1V663.4H121.9V668H122.15V670.95H122.4V673.9H122.7V677.4H123V680.9L140.5 680.9L140.5 685L146.1 685L146.1 690.8L159.9 690.8L159.9 696.4L198.8 696.4" fill="none" stroke="#2a0c62" stroke-width="1.95" stroke-linejoin="miter"/>
<path d="M50.8 577.3H52.6V578.5H59.9V579.1H67.2V579.7H68.4V580.8H75.9V581.4H80.9V582.3H85.9V583.2H87.6V587.8H91.7V590.2H95.2V590.8H97.6V593.1H102.2V594.9H103.7V598H104.3V602.9H106V604.1L106 607L118.3 607H118.9V609.3H120.6V611.7H121.2V616.4H121.8V619.9H122.4V623.4H122.7V627.75H123V632.1L140.5 632.1L140.5 638L145.7 638L145.7 649.6L159.7 649.6L159.7 671.4L192.6 671.4L192.6 679L198.8 679" fill="none" stroke="#b3347f" stroke-width="1.95" stroke-linejoin="miter"/>
<path d="M52.6 580.8L67.2 580.8L67.2 584.9H75.4V586.1H76.5V587.3H83V587.8H85.9V592.5H86.5V597.5H89V600.8H92V601.8H94.5V604.5H97.8V607H101.4V608.8H103.1V611.1H103.7V614H104V617H104.3V620H105.4V622.8L105.4 628H106V629L118.3 629H118.9V633.9H120.6V638.5H120.9V641.45H121.2V644.4H121.5V647.3H121.8V650.2H122.4V654.9H122.7V657.8H123V660.7L140 660.7H140.25V663.8H140.5V666.9H145.2V668H145.4V671.2H145.6V674.4H145.8V677.6L159.6 677.6L159.6 691.3L192.6 691.3L192.6 694L198.8 694" fill="none" stroke="#761f8f" stroke-width="1.95" stroke-linejoin="miter"/>
<path d="M52.6 581.4L66.6 581.4H68.4V583.8H71.9V585.5H76.5V586.7H82.4V587.8H85.3V590.8H86.15V594H87V597.2H89.4V601.3H94V603H98.1V607.7H102.2V610H104V614.7H104.3V618.8H104.6V622.9H105.15V625.8H105.7V628.7H112V629.1H118.3V629.5H118.9V634H120.6V638.5H120.9V641.45H121.2V644.4H121.5V647.3H121.8V650.2H122.4V654.9H122.7V657.95H123V661L140 661H140.25V664H140.5V667H145.2V668H145.4V671.27H145.6V674.53H145.8V677.8L159.6 677.8L159.6 691.5L192.6 691.5L192.6 694.2L198.8 694.2" fill="none" stroke="#000" stroke-width="1.95" stroke-linejoin="miter" stroke-dasharray="2,3.4"/>
<text x="171" y="578.28" font-size="9.8" text-anchor="middle" fill="#111" stroke="#111" stroke-width="0.2" font-weight="normal">Quantile</text>
<line x1="126.6" y1="587.7" x2="137.2" y2="587.7" stroke="#000000" stroke-width="1.6"/>
<line x1="126.6" y1="599.7" x2="137.2" y2="599.7" stroke="#2a0c62" stroke-width="1.6"/>
<line x1="171.8" y1="587.7" x2="182.8" y2="587.7" stroke="#761f8f" stroke-width="1.6"/>
<line x1="171.8" y1="599.7" x2="182.8" y2="599.7" stroke="#b3347f" stroke-width="1.6"/>
<line x1="126.6" y1="612" x2="137.2" y2="612" stroke="#000" stroke-width="1.6" stroke-dasharray="2.2,1.4"/>
<text x="146.2" y="591.68" font-size="9.8" text-anchor="start" fill="#111" stroke="#111" stroke-width="0.2" font-weight="normal">1</text>
<text x="151.8" y="587.9" font-size="5.6" text-anchor="start" fill="#111" stroke="#111" stroke-width="0.2" font-weight="normal">st</text>
<text x="146.2" y="603.68" font-size="9.8" text-anchor="start" fill="#111" stroke="#111" stroke-width="0.2" font-weight="normal">2</text>
<text x="151.8" y="599.9" font-size="5.6" text-anchor="start" fill="#111" stroke="#111" stroke-width="0.2" font-weight="normal">nd</text>
<text x="191.4" y="591.68" font-size="9.8" text-anchor="start" fill="#111" stroke="#111" stroke-width="0.2" font-weight="normal">3</text>
<text x="197" y="587.9" font-size="5.6" text-anchor="start" fill="#111" stroke="#111" stroke-width="0.2" font-weight="normal">rd</text>
<text x="191.4" y="603.68" font-size="9.8" text-anchor="start" fill="#111" stroke="#111" stroke-width="0.2" font-weight="normal">4</text>
<text x="197" y="599.9" font-size="5.6" text-anchor="start" fill="#111" stroke="#111" stroke-width="0.2" font-weight="normal">th</text>
<text x="146" y="615.2" font-size="9.85" text-anchor="start" fill="#111" stroke="#111" stroke-width="0.2" font-weight="normal">Baseline model</text>
<text x="146" y="626.3" font-size="9.85" text-anchor="start" fill="#111" stroke="#111" stroke-width="0.2" font-weight="normal">prediction</text>
<line x1="283" y1="575" x2="283" y2="700.8" stroke="#000" stroke-width="1.45"/>
<line x1="282.3" y1="700.1" x2="444.2" y2="700.1" stroke="#000" stroke-width="1.45"/>
<line x1="276.8" y1="697" x2="283" y2="697" stroke="#000" stroke-width="1.45"/>
<text x="271.8" y="700.73" font-size="10.8" text-anchor="end" fill="#111" stroke="#111" stroke-width="0.2" font-weight="normal">0.0</text>
<line x1="276.8" y1="673.2" x2="283" y2="673.2" stroke="#000" stroke-width="1.45"/>
<text x="271.8" y="676.93" font-size="10.8" text-anchor="end" fill="#111" stroke="#111" stroke-width="0.2" font-weight="normal">0.2</text>
<line x1="276.8" y1="649.4" x2="283" y2="649.4" stroke="#000" stroke-width="1.45"/>
<text x="271.8" y="653.13" font-size="10.8" text-anchor="end" fill="#111" stroke="#111" stroke-width="0.2" font-weight="normal">0.4</text>
<line x1="276.8" y1="625.6" x2="283" y2="625.6" stroke="#000" stroke-width="1.45"/>
<text x="271.8" y="629.33" font-size="10.8" text-anchor="end" fill="#111" stroke="#111" stroke-width="0.2" font-weight="normal">0.6</text>
<line x1="276.8" y1="601.8" x2="283" y2="601.8" stroke="#000" stroke-width="1.45"/>
<text x="271.8" y="605.53" font-size="10.8" text-anchor="end" fill="#111" stroke="#111" stroke-width="0.2" font-weight="normal">0.8</text>
<line x1="276.8" y1="578" x2="283" y2="578" stroke="#000" stroke-width="1.45"/>
<text x="271.8" y="581.73" font-size="10.8" text-anchor="end" fill="#111" stroke="#111" stroke-width="0.2" font-weight="normal">1.0</text>
<line x1="306.8" y1="700.1" x2="306.8" y2="706.4" stroke="#000" stroke-width="1.45"/>
<text x="306.8" y="719.83" font-size="10.8" text-anchor="middle" fill="#111" stroke="#111" stroke-width="0.2" font-weight="normal">2</text>
<line x1="337.1" y1="700.1" x2="337.1" y2="706.4" stroke="#000" stroke-width="1.45"/>
<text x="337.1" y="719.83" font-size="10.8" text-anchor="middle" fill="#111" stroke="#111" stroke-width="0.2" font-weight="normal">4</text>
<line x1="367.4" y1="700.1" x2="367.4" y2="706.4" stroke="#000" stroke-width="1.45"/>
<text x="367.4" y="719.83" font-size="10.8" text-anchor="middle" fill="#111" stroke="#111" stroke-width="0.2" font-weight="normal">6</text>
<line x1="397.9" y1="700.1" x2="397.9" y2="706.4" stroke="#000" stroke-width="1.45"/>
<text x="397.9" y="719.83" font-size="10.8" text-anchor="middle" fill="#111" stroke="#111" stroke-width="0.2" font-weight="normal">8</text>
<line x1="428.2" y1="700.1" x2="428.2" y2="706.4" stroke="#000" stroke-width="1.45"/>
<text x="428.2" y="719.83" font-size="10.8" text-anchor="middle" fill="#111" stroke="#111" stroke-width="0.2" font-weight="normal">10</text>
<text x="363.7" y="735.5" font-size="11" text-anchor="middle" fill="#111" stroke="#111" stroke-width="0.2" font-weight="normal">Time since first visit (years)</text>
<text x="247.7" y="637.5" font-size="11.2" text-anchor="middle" fill="#111" stroke="#111" stroke-width="0.2" font-weight="normal" transform="rotate(-90 247.7 637.5)">Probability of non-event</text>
<text x="363.7" y="552.6" font-size="13.4" text-anchor="middle" fill="#111" stroke="#111" stroke-width="0.2" font-weight="normal">Loss of OHR: LUMC</text>
<text x="363.7" y="566.7" font-size="13.4" text-anchor="middle" fill="#111" stroke="#111" stroke-width="0.2" font-weight="normal">RGMA</text>
<path d="M304.82 583.65H305.44V587.75H306.06V591.84L318.47 591.84H319.3V595.32H320.13V598.79H320.95V602.27H322.19V605.99H323.44V609.71H324.68V613.44H325.92V617.16H327.78V620.88H329.64V624.6H331.5V627.71H333.36V630.81H335.22V635.15H337.09V639.5H338.95V643.84H340.81V648.18H342.67V651.29H344.53V654.39H345.77V658.11H347.01V661.83H351.98V666.8L351.98 675.49L365.63 675.49H366.25V679.83H366.87V684.17H370.59V689.14H375.56V692.86H384.24V696.09H391.69V696.58H399.14V697.08L436.86 697.08" fill="none" stroke="#000000" stroke-width="1.95" stroke-linejoin="miter"/>
<path d="M304.82 582.41H306.06V584.89L318.47 584.89H320.95V589.86H324.68V594.82H326.54V597.92H328.4V601.03H332.12V605.99H335.85V609.71H337.71V612.81H339.57V615.92H341.43V619.64H343.29V623.36H345.15V627.71H347.01V632.05H349.5V637.01H350.12V640.12H350.74V643.22H351.36V646.32H351.98V649.42L365.63 649.42H366.25V652.53H366.87V655.63H367.49V658.73H368.11V661.83H370.59V666.8H374.32V671.76H376.8V675.49H379.28V679.21H384.24V684.17H386.11V687.9H387.97V691.62L399.14 691.62H401.62V694.1L412.79 694.1L412.79 696.09L436.86 696.09" fill="none" stroke="#2a0c62" stroke-width="1.95" stroke-linejoin="miter"/>
<path d="M289.93 577.94L303.58 577.94H304.82V579.43L318.47 579.43H320.95V581.17H329.64V582.91H335.85V584.89H340.81V587.37H347.01V591.1H351.98V594.82L365.63 594.82H368.11V599.78H373.08V604.75H378.04V609.71H381.76V614.68H383V617.78H384.24V620.88H385.49V623.98H386.73V627.09L399.14 627.09H399.96V630.4H400.79V633.7H401.62V637.01L412.79 637.01L412.79 645.7L436.86 645.7L436.86 665.56" fill="none" stroke="#b3347f" stroke-width="1.95" stroke-linejoin="miter"/>
<path d="M303.58 578.69H304.82V579.93L318.47 579.93H320.95V583.65H324.68V587.37H329.64V589.86H333.36V593.58H337.09V597.3H340.81V601.03H343.29V604.13H345.77V607.23H350.74V610.95H351.98V615.92L365.63 615.92H366.25V619.02H366.87V622.12H368.73V625.85H370.59V629.57H372.45V632.67H374.32V635.77H378.04V640.74H379.9V643.84H381.76V646.94H384.24V651.91H384.86V655.01H385.49V658.11H386.11V661.21H386.73V664.32L399.14 664.32H399.96V667.63H400.79V670.93H401.62V674.24L411.55 674.24H412.17V678.22H412.79V682.19L436.86 682.19L436.86 692.86" fill="none" stroke="#761f8f" stroke-width="1.95" stroke-linejoin="miter"/>
<path d="M289.93 577.94L303.58 577.94H304.82V581.17L318.47 581.17H322.19V584.89H325.92V588.62H332.12V592.34H335.22V595.44H338.33V598.54H343.29V603.51H346.39V606.61H349.5V609.71H350.74V613.44H351.98V617.16L365.63 617.16H366.46V620.47H367.28V623.78H368.11V627.09H371.83V632.05H374.32V635.77H376.8V639.5H378.66V643.22H380.52V646.94H382.38V650.67H384.24V654.39H384.86V657.49H385.49V660.59H386.11V663.7H386.73V666.8L399.14 666.8H399.96V670.11H400.79V673.42H401.62V676.73L411.55 676.73H412.17V680.45H412.79V684.17L436.86 684.17L436.86 691.62" fill="none" stroke="#000" stroke-width="1.95" stroke-linejoin="miter" stroke-dasharray="2,3.4"/>
<line x1="521.3" y1="575" x2="521.3" y2="700.8" stroke="#000" stroke-width="1.45"/>
<line x1="520.6" y1="700.1" x2="683.5" y2="700.1" stroke="#000" stroke-width="1.45"/>
<line x1="515.1" y1="697" x2="521.3" y2="697" stroke="#000" stroke-width="1.45"/>
<text x="510.1" y="700.73" font-size="10.8" text-anchor="end" fill="#111" stroke="#111" stroke-width="0.2" font-weight="normal">0.0</text>
<line x1="515.1" y1="673.2" x2="521.3" y2="673.2" stroke="#000" stroke-width="1.45"/>
<text x="510.1" y="676.93" font-size="10.8" text-anchor="end" fill="#111" stroke="#111" stroke-width="0.2" font-weight="normal">0.2</text>
<line x1="515.1" y1="649.4" x2="521.3" y2="649.4" stroke="#000" stroke-width="1.45"/>
<text x="510.1" y="653.13" font-size="10.8" text-anchor="end" fill="#111" stroke="#111" stroke-width="0.2" font-weight="normal">0.4</text>
<line x1="515.1" y1="625.6" x2="521.3" y2="625.6" stroke="#000" stroke-width="1.45"/>
<text x="510.1" y="629.33" font-size="10.8" text-anchor="end" fill="#111" stroke="#111" stroke-width="0.2" font-weight="normal">0.6</text>
<line x1="515.1" y1="601.8" x2="521.3" y2="601.8" stroke="#000" stroke-width="1.45"/>
<text x="510.1" y="605.53" font-size="10.8" text-anchor="end" fill="#111" stroke="#111" stroke-width="0.2" font-weight="normal">0.8</text>
<line x1="515.1" y1="578" x2="521.3" y2="578" stroke="#000" stroke-width="1.45"/>
<text x="510.1" y="581.73" font-size="10.8" text-anchor="end" fill="#111" stroke="#111" stroke-width="0.2" font-weight="normal">1.0</text>
<line x1="543.5" y1="700.1" x2="543.5" y2="706.4" stroke="#000" stroke-width="1.45"/>
<text x="543.5" y="719.83" font-size="10.8" text-anchor="middle" fill="#111" stroke="#111" stroke-width="0.2" font-weight="normal">2</text>
<line x1="570.1" y1="700.1" x2="570.1" y2="706.4" stroke="#000" stroke-width="1.45"/>
<text x="570.1" y="719.83" font-size="10.8" text-anchor="middle" fill="#111" stroke="#111" stroke-width="0.2" font-weight="normal">4</text>
<line x1="596.9" y1="700.1" x2="596.9" y2="706.4" stroke="#000" stroke-width="1.45"/>
<text x="596.9" y="719.83" font-size="10.8" text-anchor="middle" fill="#111" stroke="#111" stroke-width="0.2" font-weight="normal">6</text>
<line x1="623.5" y1="700.1" x2="623.5" y2="706.4" stroke="#000" stroke-width="1.45"/>
<text x="623.5" y="719.83" font-size="10.8" text-anchor="middle" fill="#111" stroke="#111" stroke-width="0.2" font-weight="normal">8</text>
<line x1="650.3" y1="700.1" x2="650.3" y2="706.4" stroke="#000" stroke-width="1.45"/>
<text x="650.3" y="719.83" font-size="10.8" text-anchor="middle" fill="#111" stroke="#111" stroke-width="0.2" font-weight="normal">10</text>
<line x1="676.8" y1="700.1" x2="676.8" y2="706.4" stroke="#000" stroke-width="1.45"/>
<text x="676.8" y="719.83" font-size="10.8" text-anchor="middle" fill="#111" stroke="#111" stroke-width="0.2" font-weight="normal">12</text>
<text x="602.5" y="735.5" font-size="11" text-anchor="middle" fill="#111" stroke="#111" stroke-width="0.2" font-weight="normal">Time since first visit (years)</text>
<text x="486" y="637.5" font-size="11.2" text-anchor="middle" fill="#111" stroke="#111" stroke-width="0.2" font-weight="normal" transform="rotate(-90 486 637.5)">Probability of non-event</text>
<text x="602.5" y="552.6" font-size="13.4" text-anchor="middle" fill="#111" stroke="#111" stroke-width="0.2" font-weight="normal">Loss of HTM: LUMC</text>
<text x="602.5" y="566.7" font-size="13.4" text-anchor="middle" fill="#111" stroke="#111" stroke-width="0.2" font-weight="normal">RGMA</text>
<path d="M528.65 579.93L554.71 579.93H555.13V583.24H555.54V586.55H555.95V589.86L569.6 589.86H570.02V593.17H570.43V596.47H570.85V599.78H575.81V601.03H577.05V605.99L582.01 605.99H584.5V610.95H586.36V614.06H588.22V617.16H593.18V622.12H595.04V625.85H596.91V629.57H598.15V633.91H599.39V638.26H608.08V639.5H608.7V642.6H609.32V645.7L615.52 645.7H616.14V649.42H616.76V653.15L621.73 653.15H622.55V656.87H623.38V660.59H624.21V664.32H627.93V669.28L634.14 669.28H634.96V672.59H635.79V675.9H636.62V679.21H637.86V682.93H639.1V686.65H644.06V691.62L651.51 691.62H652.75V695.34L675.83 695.34" fill="none" stroke="#000000" stroke-width="1.95" stroke-linejoin="miter"/>
<path d="M528.65 579.93H535.17V580.24H541.68V580.55H548.2V580.86H554.71V581.17L570.85 581.17H572.09V584.89H580.77V587.37H586.98V592.34H591.94V593.58H596.91V594.82H598.15V597.92H599.39V601.03H608.08V602.27H609.32V604.75H615.52V605.99H618V610.95H624.21V614.68H625.45V619.64H632.9V622.12H634.76V625.85H636.62V629.57H637.03V632.88H637.45V636.19H637.86V639.5H642.82V640.74H643.24V644.05H643.65V647.36H644.06V650.67L651.51 650.67H651.82V654.08H652.13V657.49H652.44V660.9H652.75V664.32L675.83 664.32" fill="none" stroke="#2a0c62" stroke-width="1.95" stroke-linejoin="miter"/>
<path d="M528.65 577.94H534.68V578.05H540.71V578.16H546.73V578.26H552.76V578.37H558.79V578.47H564.82V578.58H570.85V578.69H577.05V579.27H583.26V579.85H589.46V580.42H595.04V581.42H600.63V582.41H609.32V583.65H616.76V586.13H621.73V587.37H626.69V589.36H632.9V589.86H636.62V591.1H639.1V594.82H644.06V597.3H649.03V598.54H650.89V601.65H652.75V604.75L675.83 604.75" fill="none" stroke="#b3347f" stroke-width="1.95" stroke-linejoin="miter"/>
<path d="M528.65 578.69H534.68V578.86H540.71V579.04H546.73V579.22H552.76V579.4H558.79V579.57H564.82V579.75H570.85V579.93H577.05V582.41H582.63V583.03H588.22V583.65H596.91V586.13H600.63V588.62H609.32V589.86H614.28V592.34H621.73V594.82H625.45V597.3H631.65V599.78H636.62V602.27H637.24V605.99H637.86V609.71H640.34V614.68H642.82V618.4H651.51V619.64H651.92V623.36H652.34V627.09H652.75V630.81L675.83 630.81" fill="none" stroke="#761f8f" stroke-width="1.95" stroke-linejoin="miter"/>
<path d="M528.65 578.69H535.17V578.81H541.68V578.94H548.2V579.06H554.71V579.18H560.09V579.85H565.47V580.51H570.85V581.17H579.53V583.65H584.5V584.89H589.46V586.13H595.67V588.62H600.63V592.34H606.83V593.58H614.28V597.3H621.73V599.78H627.93V602.27H634.14V604.75H636V608.47H637.86V612.19H640.34V617.16H642.2V620.26H644.06V623.36H647.79V626.47H651.51V629.57H651.82V632.67H652.13V635.77H652.44V638.88H652.75V641.98L675.83 641.98" fill="none" stroke="#000" stroke-width="1.95" stroke-linejoin="miter" stroke-dasharray="2,3.4"/>
<line x1="44.6" y1="790" x2="44.6" y2="915.1" stroke="#000" stroke-width="1.45"/>
<line x1="43.9" y1="914.4" x2="205.5" y2="914.4" stroke="#000" stroke-width="1.45"/>
<line x1="38.4" y1="911.7" x2="44.6" y2="911.7" stroke="#000" stroke-width="1.45"/>
<text x="33.4" y="915.43" font-size="10.8" text-anchor="end" fill="#111" stroke="#111" stroke-width="0.2" font-weight="normal">0.0</text>
<line x1="38.4" y1="888" x2="44.6" y2="888" stroke="#000" stroke-width="1.45"/>
<text x="33.4" y="891.73" font-size="10.8" text-anchor="end" fill="#111" stroke="#111" stroke-width="0.2" font-weight="normal">0.2</text>
<line x1="38.4" y1="864.3" x2="44.6" y2="864.3" stroke="#000" stroke-width="1.45"/>
<text x="33.4" y="868.03" font-size="10.8" text-anchor="end" fill="#111" stroke="#111" stroke-width="0.2" font-weight="normal">0.4</text>
<line x1="38.4" y1="840.6" x2="44.6" y2="840.6" stroke="#000" stroke-width="1.45"/>
<text x="33.4" y="844.33" font-size="10.8" text-anchor="end" fill="#111" stroke="#111" stroke-width="0.2" font-weight="normal">0.6</text>
<line x1="38.4" y1="816.9" x2="44.6" y2="816.9" stroke="#000" stroke-width="1.45"/>
<text x="33.4" y="820.63" font-size="10.8" text-anchor="end" fill="#111" stroke="#111" stroke-width="0.2" font-weight="normal">0.8</text>
<line x1="38.4" y1="793.2" x2="44.6" y2="793.2" stroke="#000" stroke-width="1.45"/>
<text x="33.4" y="796.93" font-size="10.8" text-anchor="end" fill="#111" stroke="#111" stroke-width="0.2" font-weight="normal">1.0</text>
<line x1="52" y1="914.4" x2="52" y2="920.7" stroke="#000" stroke-width="1.45"/>
<text x="52" y="934.53" font-size="10.8" text-anchor="middle" fill="#111" stroke="#111" stroke-width="0.2" font-weight="normal">1</text>
<line x1="72.87" y1="914.4" x2="72.87" y2="920.7" stroke="#000" stroke-width="1.45"/>
<text x="72.87" y="934.53" font-size="10.8" text-anchor="middle" fill="#111" stroke="#111" stroke-width="0.2" font-weight="normal">2</text>
<line x1="93.74" y1="914.4" x2="93.74" y2="920.7" stroke="#000" stroke-width="1.45"/>
<text x="93.74" y="934.53" font-size="10.8" text-anchor="middle" fill="#111" stroke="#111" stroke-width="0.2" font-weight="normal">3</text>
<line x1="114.61" y1="914.4" x2="114.61" y2="920.7" stroke="#000" stroke-width="1.45"/>
<text x="114.61" y="934.53" font-size="10.8" text-anchor="middle" fill="#111" stroke="#111" stroke-width="0.2" font-weight="normal">4</text>
<line x1="135.48" y1="914.4" x2="135.48" y2="920.7" stroke="#000" stroke-width="1.45"/>
<text x="135.48" y="934.53" font-size="10.8" text-anchor="middle" fill="#111" stroke="#111" stroke-width="0.2" font-weight="normal">5</text>
<line x1="156.35" y1="914.4" x2="156.35" y2="920.7" stroke="#000" stroke-width="1.45"/>
<text x="156.35" y="934.53" font-size="10.8" text-anchor="middle" fill="#111" stroke="#111" stroke-width="0.2" font-weight="normal">6</text>
<line x1="177.22" y1="914.4" x2="177.22" y2="920.7" stroke="#000" stroke-width="1.45"/>
<text x="177.22" y="934.53" font-size="10.8" text-anchor="middle" fill="#111" stroke="#111" stroke-width="0.2" font-weight="normal">7</text>
<line x1="198.09" y1="914.4" x2="198.09" y2="920.7" stroke="#000" stroke-width="1.45"/>
<text x="198.09" y="934.53" font-size="10.8" text-anchor="middle" fill="#111" stroke="#111" stroke-width="0.2" font-weight="normal">8</text>
<text x="124.9" y="950.69" font-size="11" text-anchor="middle" fill="#111" stroke="#111" stroke-width="0.2" font-weight="normal">Time since first visit (years)</text>
<text x="9.3" y="852.45" font-size="11.2" text-anchor="middle" fill="#111" stroke="#111" stroke-width="0.2" font-weight="normal" transform="rotate(-90 9.3 852.45)">Probability of non-event</text>
<text x="124.9" y="767.7" font-size="13.4" text-anchor="middle" fill="#111" stroke="#111" stroke-width="0.2" font-weight="normal">LoA: UF</text>
<text x="124.9" y="781.8" font-size="13.4" text-anchor="middle" fill="#111" stroke="#111" stroke-width="0.2" font-weight="normal">RGMA</text>
<path d="M52 799.12L72.87 799.12L72.87 814.53L93.74 814.53L93.74 852.45L114.61 852.45L114.61 871.41L135.48 871.41L135.48 888L156.35 888L156.35 893.93L177.22 893.93L177.22 902.22L198.09 902.22L198.09 908.15" fill="none" stroke="#000000" stroke-width="1.95" stroke-linejoin="miter"/>
<path d="M52 796.76L72.87 796.76L72.87 808.61L93.74 808.61L93.74 839.42L114.61 839.42L114.61 856L135.48 856L135.48 873.78L156.35 873.78L156.35 880.89L177.22 880.89L177.22 891.56L198.09 891.56L198.09 902.22" fill="none" stroke="#2a0c62" stroke-width="1.95" stroke-linejoin="miter"/>
<path d="M52 793.2L72.87 793.2L72.87 795.57L93.74 795.57L93.74 802.68L114.61 802.68L114.61 807.42L135.48 807.42L135.48 813.35L156.35 813.35L156.35 818.09L177.22 818.09L177.22 824.01L198.09 824.01L198.09 832.31" fill="none" stroke="#b3347f" stroke-width="1.95" stroke-linejoin="miter"/>
<path d="M52 794.38L72.87 794.38L72.87 799.12L93.74 799.12L93.74 812.16L114.61 812.16L114.61 820.46L135.48 820.46L135.48 832.31L156.35 832.31L156.35 838.23L177.22 838.23L177.22 848.9L198.09 848.9L198.09 859.56" fill="none" stroke="#761f8f" stroke-width="1.95" stroke-linejoin="miter"/>
<path d="M52 795.57L72.87 795.57L72.87 802.68L93.74 802.68L93.74 820.46L114.61 820.46L114.61 831.12L135.48 831.12L135.48 845.34L156.35 845.34L156.35 852.45L177.22 852.45L177.22 865.49L198.09 865.49L198.09 876.15" fill="none" stroke="#000" stroke-width="1.95" stroke-linejoin="miter" stroke-dasharray="2,3.4"/>
<line x1="283" y1="790" x2="283" y2="915.1" stroke="#000" stroke-width="1.45"/>
<line x1="282.3" y1="914.4" x2="444.2" y2="914.4" stroke="#000" stroke-width="1.45"/>
<line x1="276.8" y1="911.7" x2="283" y2="911.7" stroke="#000" stroke-width="1.45"/>
<text x="271.8" y="915.43" font-size="10.8" text-anchor="end" fill="#111" stroke="#111" stroke-width="0.2" font-weight="normal">0.0</text>
<line x1="276.8" y1="888" x2="283" y2="888" stroke="#000" stroke-width="1.45"/>
<text x="271.8" y="891.73" font-size="10.8" text-anchor="end" fill="#111" stroke="#111" stroke-width="0.2" font-weight="normal">0.2</text>
<line x1="276.8" y1="864.3" x2="283" y2="864.3" stroke="#000" stroke-width="1.45"/>
<text x="271.8" y="868.03" font-size="10.8" text-anchor="end" fill="#111" stroke="#111" stroke-width="0.2" font-weight="normal">0.4</text>
<line x1="276.8" y1="840.6" x2="283" y2="840.6" stroke="#000" stroke-width="1.45"/>
<text x="271.8" y="844.33" font-size="10.8" text-anchor="end" fill="#111" stroke="#111" stroke-width="0.2" font-weight="normal">0.6</text>
<line x1="276.8" y1="816.9" x2="283" y2="816.9" stroke="#000" stroke-width="1.45"/>
<text x="271.8" y="820.63" font-size="10.8" text-anchor="end" fill="#111" stroke="#111" stroke-width="0.2" font-weight="normal">0.8</text>
<line x1="276.8" y1="793.2" x2="283" y2="793.2" stroke="#000" stroke-width="1.45"/>
<text x="271.8" y="796.93" font-size="10.8" text-anchor="end" fill="#111" stroke="#111" stroke-width="0.2" font-weight="normal">1.0</text>
<line x1="290.1" y1="914.4" x2="290.1" y2="920.7" stroke="#000" stroke-width="1.45"/>
<text x="290.1" y="934.53" font-size="10.8" text-anchor="middle" fill="#111" stroke="#111" stroke-width="0.2" font-weight="normal">1</text>
<line x1="311.1" y1="914.4" x2="311.1" y2="920.7" stroke="#000" stroke-width="1.45"/>
<text x="311.1" y="934.53" font-size="10.8" text-anchor="middle" fill="#111" stroke="#111" stroke-width="0.2" font-weight="normal">2</text>
<line x1="332.1" y1="914.4" x2="332.1" y2="920.7" stroke="#000" stroke-width="1.45"/>
<text x="332.1" y="934.53" font-size="10.8" text-anchor="middle" fill="#111" stroke="#111" stroke-width="0.2" font-weight="normal">3</text>
<line x1="353.1" y1="914.4" x2="353.1" y2="920.7" stroke="#000" stroke-width="1.45"/>
<text x="353.1" y="934.53" font-size="10.8" text-anchor="middle" fill="#111" stroke="#111" stroke-width="0.2" font-weight="normal">4</text>
<line x1="374.1" y1="914.4" x2="374.1" y2="920.7" stroke="#000" stroke-width="1.45"/>
<text x="374.1" y="934.53" font-size="10.8" text-anchor="middle" fill="#111" stroke="#111" stroke-width="0.2" font-weight="normal">5</text>
<line x1="395.1" y1="914.4" x2="395.1" y2="920.7" stroke="#000" stroke-width="1.45"/>
<text x="395.1" y="934.53" font-size="10.8" text-anchor="middle" fill="#111" stroke="#111" stroke-width="0.2" font-weight="normal">6</text>
<line x1="416.1" y1="914.4" x2="416.1" y2="920.7" stroke="#000" stroke-width="1.45"/>
<text x="416.1" y="934.53" font-size="10.8" text-anchor="middle" fill="#111" stroke="#111" stroke-width="0.2" font-weight="normal">7</text>
<line x1="437.1" y1="914.4" x2="437.1" y2="920.7" stroke="#000" stroke-width="1.45"/>
<text x="437.1" y="934.53" font-size="10.8" text-anchor="middle" fill="#111" stroke="#111" stroke-width="0.2" font-weight="normal">8</text>
<text x="363.7" y="950.69" font-size="11" text-anchor="middle" fill="#111" stroke="#111" stroke-width="0.2" font-weight="normal">Time since first visit (years)</text>
<text x="247.7" y="852.45" font-size="11.2" text-anchor="middle" fill="#111" stroke="#111" stroke-width="0.2" font-weight="normal" transform="rotate(-90 247.7 852.45)">Probability of non-event</text>
<text x="363.7" y="767.7" font-size="13.4" text-anchor="middle" fill="#111" stroke="#111" stroke-width="0.2" font-weight="normal">Loss of OHR: UF</text>
<text x="363.7" y="781.8" font-size="13.4" text-anchor="middle" fill="#111" stroke="#111" stroke-width="0.2" font-weight="normal">RGMA</text>
<path d="M290.1 800.31L311.1 800.31L311.1 812.16L332.1 812.16L332.1 838.23L353.1 838.23L353.1 857.19L374.1 857.19L374.1 879.71L395.1 879.71L395.1 896.3L416.1 896.3L416.1 904L437.1 904L437.1 909.92" fill="none" stroke="#000000" stroke-width="1.95" stroke-linejoin="miter"/>
<path d="M290.1 797.94L311.1 797.94L311.1 803.87L332.1 803.87L332.1 821.64L353.1 821.64L353.1 835.86L374.1 835.86L374.1 857.19L395.1 857.19L395.1 876.15L416.1 876.15L416.1 888L437.1 888L437.1 904.59" fill="none" stroke="#2a0c62" stroke-width="1.95" stroke-linejoin="miter"/>
<path d="M290.1 793.2L311.1 793.2L311.1 794.38L332.1 794.38L332.1 796.76L353.1 796.76L353.1 800.31L374.1 800.31L374.1 805.05L395.1 805.05L395.1 810.98L416.1 810.98L416.1 816.9L437.1 816.9L437.1 829.94" fill="none" stroke="#b3347f" stroke-width="1.95" stroke-linejoin="miter"/>
<path d="M290.1 794.38L311.1 794.38L311.1 797.94L332.1 797.94L332.1 802.68L353.1 802.68L353.1 809.79L374.1 809.79L374.1 819.27L395.1 819.27L395.1 832.31L416.1 832.31L416.1 841.79L437.1 841.79L437.1 859.56" fill="none" stroke="#761f8f" stroke-width="1.95" stroke-linejoin="miter"/>
<path d="M290.1 795.57L311.1 795.57L311.1 799.12L332.1 799.12L332.1 808.61L353.1 808.61L353.1 816.9L374.1 816.9L374.1 832.31L395.1 832.31L395.1 846.53L416.1 846.53L416.1 859.56L437.1 859.56L437.1 876.15" fill="none" stroke="#000" stroke-width="1.95" stroke-linejoin="miter" stroke-dasharray="2,3.4"/>
<line x1="521.3" y1="790" x2="521.3" y2="915.1" stroke="#000" stroke-width="1.45"/>
<line x1="520.6" y1="914.4" x2="683.5" y2="914.4" stroke="#000" stroke-width="1.45"/>
<line x1="515.1" y1="911.7" x2="521.3" y2="911.7" stroke="#000" stroke-width="1.45"/>
<text x="510.1" y="915.43" font-size="10.8" text-anchor="end" fill="#111" stroke="#111" stroke-width="0.2" font-weight="normal">0.0</text>
<line x1="515.1" y1="888" x2="521.3" y2="888" stroke="#000" stroke-width="1.45"/>
<text x="510.1" y="891.73" font-size="10.8" text-anchor="end" fill="#111" stroke="#111" stroke-width="0.2" font-weight="normal">0.2</text>
<line x1="515.1" y1="864.3" x2="521.3" y2="864.3" stroke="#000" stroke-width="1.45"/>
<text x="510.1" y="868.03" font-size="10.8" text-anchor="end" fill="#111" stroke="#111" stroke-width="0.2" font-weight="normal">0.4</text>
<line x1="515.1" y1="840.6" x2="521.3" y2="840.6" stroke="#000" stroke-width="1.45"/>
<text x="510.1" y="844.33" font-size="10.8" text-anchor="end" fill="#111" stroke="#111" stroke-width="0.2" font-weight="normal">0.6</text>
<line x1="515.1" y1="816.9" x2="521.3" y2="816.9" stroke="#000" stroke-width="1.45"/>
<text x="510.1" y="820.63" font-size="10.8" text-anchor="end" fill="#111" stroke="#111" stroke-width="0.2" font-weight="normal">0.8</text>
<line x1="515.1" y1="793.2" x2="521.3" y2="793.2" stroke="#000" stroke-width="1.45"/>
<text x="510.1" y="796.93" font-size="10.8" text-anchor="end" fill="#111" stroke="#111" stroke-width="0.2" font-weight="normal">1.0</text>
<line x1="528.9" y1="914.4" x2="528.9" y2="920.7" stroke="#000" stroke-width="1.45"/>
<text x="528.9" y="934.53" font-size="10.8" text-anchor="middle" fill="#111" stroke="#111" stroke-width="0.2" font-weight="normal">1</text>
<line x1="547.16" y1="914.4" x2="547.16" y2="920.7" stroke="#000" stroke-width="1.45"/>
<text x="547.16" y="934.53" font-size="10.8" text-anchor="middle" fill="#111" stroke="#111" stroke-width="0.2" font-weight="normal">2</text>
<line x1="565.42" y1="914.4" x2="565.42" y2="920.7" stroke="#000" stroke-width="1.45"/>
<text x="565.42" y="934.53" font-size="10.8" text-anchor="middle" fill="#111" stroke="#111" stroke-width="0.2" font-weight="normal">3</text>
<line x1="583.68" y1="914.4" x2="583.68" y2="920.7" stroke="#000" stroke-width="1.45"/>
<text x="583.68" y="934.53" font-size="10.8" text-anchor="middle" fill="#111" stroke="#111" stroke-width="0.2" font-weight="normal">4</text>
<line x1="601.94" y1="914.4" x2="601.94" y2="920.7" stroke="#000" stroke-width="1.45"/>
<text x="601.94" y="934.53" font-size="10.8" text-anchor="middle" fill="#111" stroke="#111" stroke-width="0.2" font-weight="normal">5</text>
<line x1="620.2" y1="914.4" x2="620.2" y2="920.7" stroke="#000" stroke-width="1.45"/>
<text x="620.2" y="934.53" font-size="10.8" text-anchor="middle" fill="#111" stroke="#111" stroke-width="0.2" font-weight="normal">6</text>
<line x1="638.46" y1="914.4" x2="638.46" y2="920.7" stroke="#000" stroke-width="1.45"/>
<text x="638.46" y="934.53" font-size="10.8" text-anchor="middle" fill="#111" stroke="#111" stroke-width="0.2" font-weight="normal">7</text>
<line x1="656.72" y1="914.4" x2="656.72" y2="920.7" stroke="#000" stroke-width="1.45"/>
<text x="656.72" y="934.53" font-size="10.8" text-anchor="middle" fill="#111" stroke="#111" stroke-width="0.2" font-weight="normal">8</text>
<line x1="674.98" y1="914.4" x2="674.98" y2="920.7" stroke="#000" stroke-width="1.45"/>
<text x="674.98" y="934.53" font-size="10.8" text-anchor="middle" fill="#111" stroke="#111" stroke-width="0.2" font-weight="normal">9</text>
<text x="602.5" y="950.69" font-size="11" text-anchor="middle" fill="#111" stroke="#111" stroke-width="0.2" font-weight="normal">Time since first visit (years)</text>
<text x="486" y="852.45" font-size="11.2" text-anchor="middle" fill="#111" stroke="#111" stroke-width="0.2" font-weight="normal" transform="rotate(-90 486 852.45)">Probability of non-event</text>
<text x="602.5" y="767.7" font-size="13.4" text-anchor="middle" fill="#111" stroke="#111" stroke-width="0.2" font-weight="normal">Loss of HTM: UF</text>
<text x="602.5" y="781.8" font-size="13.4" text-anchor="middle" fill="#111" stroke="#111" stroke-width="0.2" font-weight="normal">RGMA</text>
<path d="M528.9 795.57L547.16 795.57L547.16 801.85L565.42 801.85L565.42 812.28L583.68 812.28L583.68 824.25L601.94 824.25L601.94 824.25L620.2 824.25L620.2 824.25L638.46 824.25L638.46 824.25L656.72 824.25L656.72 824.25L674.98 824.25L674.98 824.25" fill="none" stroke="#000000" stroke-width="1.95" stroke-linejoin="miter"/>
<path d="M528.9 795.57L547.16 795.57L547.16 796.4L565.42 796.4L565.42 800.78L583.68 800.78L583.68 806.47L601.94 806.47L601.94 806.47L620.2 806.47L620.2 806.47L638.46 806.47L638.46 806.47L656.72 806.47L656.72 806.47L674.98 806.47L674.98 806.47" fill="none" stroke="#2a0c62" stroke-width="1.95" stroke-linejoin="miter"/>
<path d="M528.9 793.91L547.16 793.91L547.16 794.03L565.42 794.03L565.42 794.15L583.68 794.15L583.68 794.27L601.94 794.27L601.94 794.27L620.2 794.27L620.2 794.27L638.46 794.27L638.46 794.27L656.72 794.27L656.72 794.27L674.98 794.27L674.98 794.27" fill="none" stroke="#761f8f" stroke-width="1.95" stroke-linejoin="miter"/>
<path d="M528.9 793.2L547.16 793.2L547.16 793.2L565.42 793.2L565.42 793.32L583.68 793.32L583.68 793.44L601.94 793.44L601.94 793.44L620.2 793.44L620.2 793.44L638.46 793.44L638.46 793.44L656.72 793.44L656.72 793.44L674.98 793.44L674.98 793.44" fill="none" stroke="#b3347f" stroke-width="1.95" stroke-linejoin="miter"/>
<path d="M528.9 793.2L547.16 793.2L547.16 793.79L565.42 793.79L565.42 795.93L583.68 795.93L583.68 797.94L601.94 797.94L601.94 797.94L620.2 797.94L620.2 797.94L638.46 797.94L638.46 797.94L656.72 797.94L656.72 797.94L674.98 797.94L674.98 797.94" fill="none" stroke="#000" stroke-width="1.95" stroke-linejoin="miter" stroke-dasharray="2,3.4"/>
</svg>
</body></html>
